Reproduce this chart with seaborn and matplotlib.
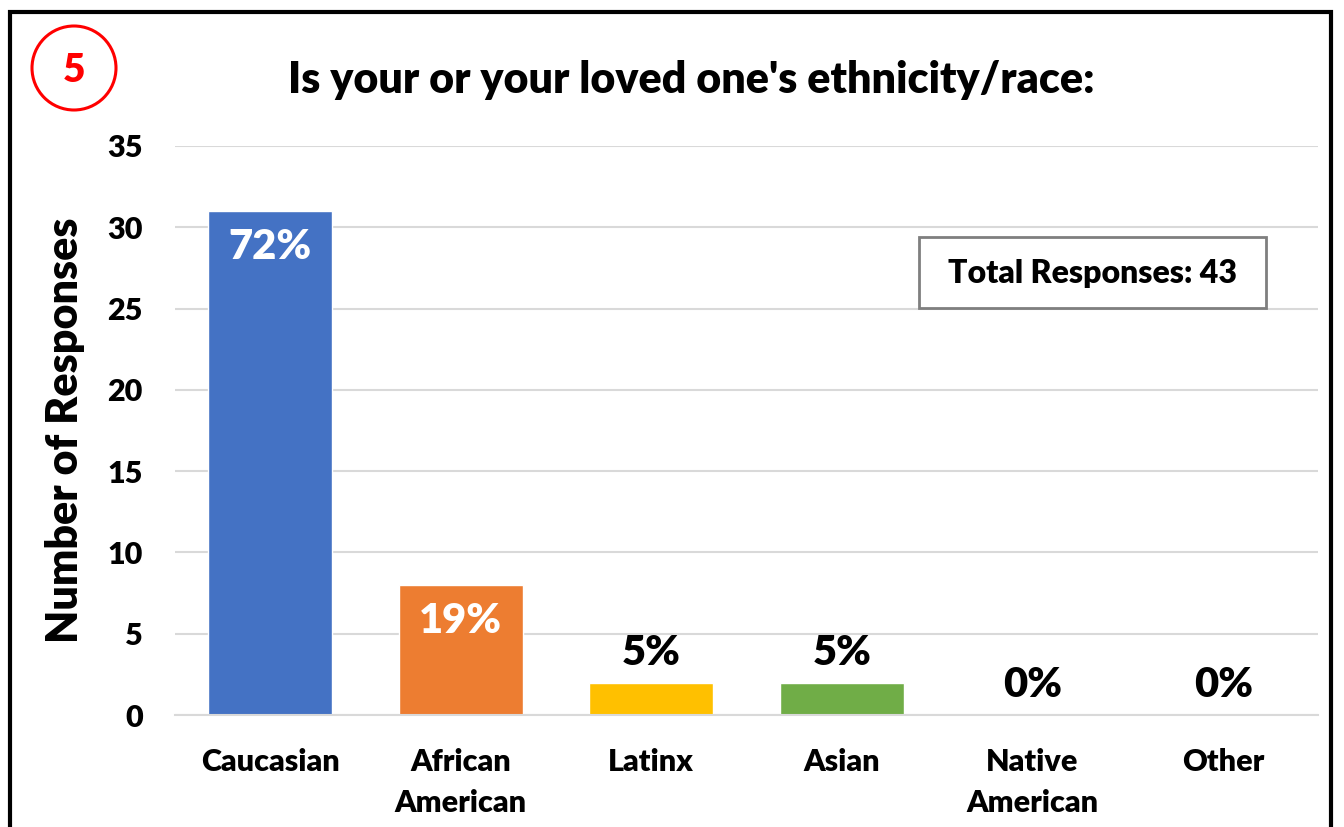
import matplotlib
matplotlib.use("Agg")
import matplotlib.pyplot as plt
import seaborn as sns
import pandas as pd
from matplotlib.patches import Ellipse, Rectangle

categories = ["Caucasian", "African\nAmerican", "Latinx", "Asian", "Native\nAmerican", "Other"]
counts = [31, 8, 2, 2, 0, 0]
percent_labels = ["72%", "19%", "5%", "5%", "0%", "0%"]
colors = ["#4472C4", "#ED7D31", "#FFC000", "#70AD47", "#A5A5A5", "#5B9BD5"]
yticks = [0, 5, 10, 15, 20, 25, 30, 35]
title = "Is your or your loved one's ethnicity/race:"
total_text = "Total Responses: 43"

sns.set_style("white")
plt.rcParams['font.family'] = ['Lato', 'DejaVu Sans']
plt.rcParams['font.weight'] = 'bold'
plt.rcParams['text.color'] = 'black'
plt.rcParams['axes.labelcolor'] = 'black'
plt.rcParams['xtick.color'] = 'black'
plt.rcParams['ytick.color'] = 'black'

df = pd.DataFrame({"cat": categories, "n": counts})

W, H = 1344, 827
fig = plt.figure(figsize=(13.44, 8.27), dpi=100)
ax = fig.add_axes([0.130, 0.1354, 0.851, 0.6881])
sns.barplot(data=df, x="cat", y="n", hue="cat", palette=colors, legend=False,
            width=0.65, ax=ax, saturation=1)

ax.set_ylim(0, 35)
ax.set_xlim(-0.5, len(categories) - 0.5)
ax.set_yticks(yticks)
ax.yaxis.grid(True, color="#D9D9D9", linewidth=1.5)
ax.set_axisbelow(True)
for s in ["top", "right", "left"]:
    ax.spines[s].set_visible(False)
ax.spines["bottom"].set_color("#D9D9D9")
ax.spines["bottom"].set_linewidth(1.5)
ax.tick_params(axis="both", length=0, labelsize=22, colors="black")
ax.tick_params(axis="x", pad=24)
ax.tick_params(axis="y", pad=23)
for lab in ax.get_xticklabels() + ax.get_yticklabels():
    lab.set_fontweight("heavy")
    lab.set_color("black")
for lab in ax.get_xticklabels():
    lab.set_linespacing(1.55)
ax.set_xlabel("")
ax.set_ylabel("Number of Responses", fontsize=31, fontweight="heavy", labelpad=16, color="black")

for i, (v, lab) in enumerate(zip(counts, percent_labels)):
    if v >= 5:
        ax.annotate(lab, (i, v), xytext=(0, -36), textcoords="offset pixels",
                    ha="center", va="center", color="white", fontsize=30, fontweight="heavy")
    else:
        ax.annotate(lab, (i, v), xytext=(0, 30), textcoords="offset pixels",
                    ha="center", va="center", color="black", fontsize=30, fontweight="heavy")

fig.text(691 / W, 1 - 80 / H, title, ha="center", va="center", fontsize=31, fontweight="heavy",
         color="black")

# total responses box
fig.patches.append(Rectangle((919 / W, 1 - 308 / H), 347 / W, 71 / H, transform=fig.transFigure,
                             facecolor="white", edgecolor="#7F7F7F", linewidth=2, zorder=5))
fig.text(1092 / W, 1 - 273 / H, total_text, ha="center", va="center", fontsize=23,
         fontweight="heavy", zorder=6, color="black")

# red circle with number
fig.patches.append(Ellipse((74 / W, 1 - 68 / H), 84 / W, 84 / H, transform=fig.transFigure,
                           facecolor="none", edgecolor="#FF0000", linewidth=2.2))
fig.text(74 / W, 1 - 70 / H, "5", ha="center", va="center", fontsize=28, fontweight="heavy",
         color="#FF0000")

# figure border
fig.patches.append(Rectangle((10 / W, -0.05), 1321 / W, 1.05 - 12 / H, transform=fig.transFigure,
                             facecolor="none", edgecolor="black", linewidth=3))

fig.savefig("out.png", dpi=100)
